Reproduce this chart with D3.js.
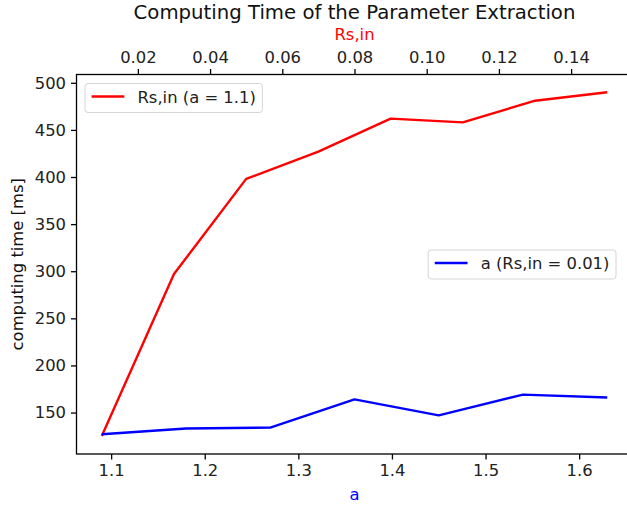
<!DOCTYPE html>
<html>
<head>
<meta charset="utf-8">
<script src="https://cdn.jsdelivr.net/npm/d3@7"></script>
<style>
  body { margin: 0; background: #fff; }
  svg { font-family: "DejaVu Sans", sans-serif; display: block; }
</style>
</head>
<body>
<div id="chart"></div>
<script>
// data
const aValues = [1.09, 1.18, 1.27, 1.36, 1.45, 1.54, 1.63];
const aTimes = [127, 133, 134, 164, 147, 169, 166];
const rsValues = [0.01, 0.03, 0.05, 0.07, 0.09, 0.11, 0.13, 0.15];
const rsTimes = [125, 297, 398, 427, 462, 458, 481, 490];
const aTicks = [1.1, 1.2, 1.3, 1.4, 1.5, 1.6];
const rsTicks = [0.02, 0.04, 0.06, 0.08, 0.10, 0.12, 0.14];
const yTicks = [150, 200, 250, 300, 350, 400, 450, 500];

const W = 627, H = 508;
const plot = { left: 76.5, right: 632.5, top: 74.5, bottom: 454 };
const fs = 16.4;   // tick / label font size
const em = fs;

const svg = d3.select("#chart").append("svg")
  .attr("width", W).attr("height", H);

// scales
const xA = d3.scaleLinear().domain([1.063, 1.657]).range([plot.left, plot.right]);
const xRs = d3.scaleLinear().domain([0.003, 0.157]).range([plot.left, plot.right]);
const y = d3.scaleLinear().domain([106, 508.8]).range([plot.bottom, plot.top]);

function styleAxis(g) {
  g.select(".domain").remove();
  g.selectAll(".tick line").attr("stroke", "#000").attr("stroke-width", 1.3);
  g.selectAll(".tick text").attr("fill", "#222").style("font-size", fs + "px")
    .style("font-family", "DejaVu Sans");
}

// axes
svg.append("g")
  .attr("transform", `translate(0,${plot.bottom})`)
  .call(d3.axisBottom(xA).tickValues(aTicks).tickFormat(d3.format(".1f")).tickSize(5.5).tickPadding(5))
  .call(styleAxis);

svg.append("g")
  .attr("transform", `translate(0,${plot.top})`)
  .call(d3.axisTop(xRs).tickValues(rsTicks).tickFormat(d3.format(".2f")).tickSize(5.5).tickPadding(6.5))
  .call(styleAxis);

svg.append("g")
  .attr("transform", `translate(${plot.left},0)`)
  .call(d3.axisLeft(y).tickValues(yTicks).tickFormat(d3.format("d")).tickSize(5.5).tickPadding(5))
  .call(styleAxis);

// lines
const lineRs = d3.line().x((d, i) => xRs(rsValues[i])).y(d => y(d));
const lineA = d3.line().x((d, i) => xA(aValues[i])).y(d => y(d));

svg.append("path").datum(rsTimes)
  .attr("fill", "none").attr("stroke", "red").attr("stroke-width", 2.4)
  .attr("stroke-linejoin", "round").attr("d", lineRs);

svg.append("path").datum(aTimes)
  .attr("fill", "none").attr("stroke", "blue").attr("stroke-width", 2.4)
  .attr("stroke-linejoin", "round").attr("d", lineA);

// frame (right side falls off the picture)
svg.append("rect")
  .attr("x", plot.left).attr("y", plot.top)
  .attr("width", plot.right - plot.left).attr("height", plot.bottom - plot.top)
  .attr("fill", "none").attr("stroke", "#000").attr("stroke-width", 1.3);

// titles and labels
const cx = (plot.left + plot.right) / 2;
svg.append("text")
  .attr("x", cx).attr("y", 19)
  .attr("text-anchor", "middle").style("font-size", "19.7px").attr("fill", "#111")
  .text("Computing Time of the Parameter Extraction");

svg.append("text")
  .attr("x", cx).attr("y", 40)
  .attr("text-anchor", "middle").style("font-size", fs + "px").attr("fill", "red")
  .text("Rs,in");

svg.append("text")
  .attr("x", cx).attr("y", 500)
  .attr("text-anchor", "middle").style("font-size", fs + "px").attr("fill", "blue")
  .text("a");

svg.append("text")
  .attr("transform", `translate(23,${(plot.top + plot.bottom) / 2}) rotate(-90)`)
  .attr("text-anchor", "middle").style("font-size", fs + "px").attr("fill", "#111")
  .text("computing time [ms]");

// legends
function legend(label, color, x, yTop, anchorRight) {
  const g = svg.append("g");
  const txt = g.append("text").style("font-size", fs + "px").attr("fill", "#222").text(label);
  const tw = txt.node().getComputedTextLength();
  const pad = 0.4 * em;
  const w = pad + 2 * em + 0.8 * em + tw + pad, h = 29;
  const x0 = anchorRight ? x - w : x;
  g.insert("rect", "text")
    .attr("x", x0).attr("y", yTop).attr("width", w).attr("height", h)
    .attr("rx", 3).attr("fill", "#fff").attr("fill-opacity", 0.8)
    .attr("stroke", "#d6d6d6").attr("stroke-width", 1);
  g.append("line")
    .attr("x1", x0 + pad).attr("x2", x0 + pad + 2 * em)
    .attr("y1", yTop + 13).attr("y2", yTop + 13)
    .attr("stroke", color).attr("stroke-width", 2.4);
  txt.attr("x", x0 + pad + 2.8 * em).attr("y", yTop + 19);
}

legend("Rs,in (a = 1.1)", "red", 85, 83.5, false);
legend("a (Rs,in = 0.01)", "blue", 616, 250, true);
</script>
</body>
</html>
